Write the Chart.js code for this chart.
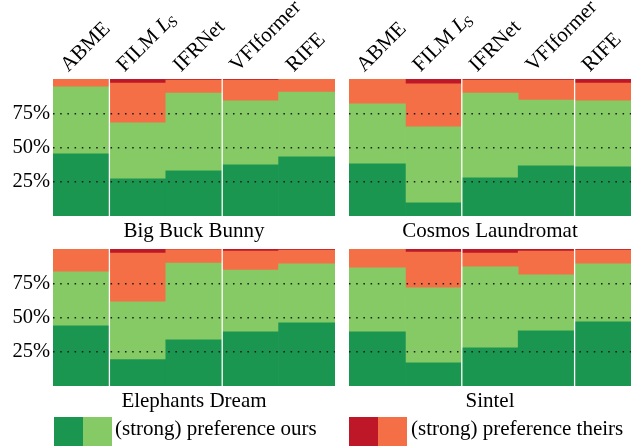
<!DOCTYPE html>
<html>
<head>
<meta charset="utf-8">
<script src="https://cdn.jsdelivr.net/npm/chart.js@4.4.1/dist/chart.umd.min.js"></script>
<style>
    body { margin: 0; background: #fff; font-family: "Liberation Serif", "Times New Roman", serif; }
    #wrap { position: relative; width: 637px; height: 448px; overflow: hidden; }
    canvas { position: absolute; }
    .title { position: absolute; width: 282px; text-align: center; font-size: 21px; line-height: 21px; color: #000; white-space: nowrap; }
    .swatch { position: absolute; width: 29px; height: 29px; top: 417px; }
    .legendText { position: absolute; top: 418px; font-size: 21px; line-height: 21px; color: #000; white-space: nowrap; }
</style>
</head>
<body>
<div id="wrap">
    <canvas id="bbbChart" width="340" height="220" style="left:0;top:0"></canvas>
    <canvas id="cosmosChart" width="297" height="220" style="left:340px;top:0"></canvas>
    <canvas id="edChart" width="340" height="150" style="left:0;top:240px"></canvas>
    <canvas id="sintelChart" width="297" height="150" style="left:340px;top:240px"></canvas>

    <div class="title" style="left:53px;top:220px">Big Buck Bunny</div>
    <div class="title" style="left:349px;top:220px">Cosmos Laundromat</div>
    <div class="title" style="left:53px;top:390px">Elephants Dream</div>
    <div class="title" style="left:349px;top:390px">Sintel</div>

    <div class="swatch" style="left:54px;background:#1b9651"></div>
    <div class="swatch" style="left:83px;background:#86ca66"></div>
    <div class="legendText" style="left:115px">(strong) preference ours</div>
    <div class="swatch" style="left:349px;background:#be1828"></div>
    <div class="swatch" style="left:378px;background:#f46e46"></div>
    <div class="legendText" style="left:411px">(strong) preference theirs</div>
</div>
<script>
// Methods compared against ours (L_S = italic L with subscript S)
const methods = ["ABME", "FILM L_S", "IFRNet", "VFIformer", "RIFE"];
const yTicks = [25, 50, 75];

// Share of votes per method, in percent
// Big Buck Bunny
const bbbStrongOurs = [45.4, 27.2, 33.0, 37.4, 43.2];
const bbbOurs = [48.8, 40.8, 56.8, 46.6, 47.3];
const bbbTheirs = [5.8, 29.1, 9.5, 15.3, 9.5];
const bbbStrongTheirs = [0, 2.9, 0.7, 0.7, 0];

// Cosmos Laundromat
const clStrongOurs = [38.1, 9.7, 27.9, 36.7, 35.9];
const clOurs = [43.7, 55.3, 61.9, 48.0, 48.1];
const clTheirs = [18.2, 31.4, 9.5, 14.6, 13.1];
const clStrongTheirs = [0, 3.6, 0.7, 0.7, 2.9];

// Elephants Dream
const edStrongOurs = [43.9, 19.2, 33.7, 39.6, 46.1];
const edOurs = [39.4, 42.2, 56.1, 45.1, 43.0];
const edTheirs = [16.7, 35.7, 9.7, 13.8, 10.2];
const edStrongTheirs = [0, 2.9, 0.5, 1.5, 0.7];

// Sintel
const sinStrongOurs = [39.6, 17.0, 27.9, 40.3, 46.8];
const sinOurs = [46.6, 54.6, 59.0, 40.8, 42.3];
const sinTheirs = [13.8, 26.2, 10.2, 17.4, 10.2];
const sinStrongTheirs = [0, 2.2, 2.9, 1.5, 0.7];

const colors = ["#1b9651", "#86ca66", "#f46e46", "#be1828"];
const FONT = '"Liberation Serif", "Times New Roman", serif';

Chart.defaults.font.family = FONT;
Chart.defaults.color = "#000";

// White divider lines between some of the bars
const dividerPlugin = {
    id: "dividers",
    afterDatasetsDraw(chart, args, opts) {
        const { ctx, chartArea, scales } = chart;
        ctx.save();
        ctx.strokeStyle = "#fff";
        ctx.lineWidth = 1.3;
        (opts.after || []).forEach((i) => {
            const x = (scales.x.getPixelForValue(i) + scales.x.getPixelForValue(i + 1)) / 2;
            ctx.beginPath();
            ctx.moveTo(x, chartArea.top);
            ctx.lineTo(x, chartArea.bottom);
            ctx.stroke();
        });
        ctx.restore();
    },
};

// Rotated method names above the bars
function drawMethodLabel(ctx, text, x, y) {
    ctx.save();
    ctx.translate(x, y);
    ctx.rotate(-Math.PI / 4);
    ctx.fillStyle = "#000";
    ctx.textAlign = "left";
    ctx.textBaseline = "alphabetic";
    ctx.font = `21px ${FONT}`;
    const m = text.match(/^(.*?)(\S)_(\S)$/);
    if (!m) {
        ctx.fillText(text, 0, 0);
    } else {
        ctx.fillText(m[1], 0, 0);
        let w = ctx.measureText(m[1]).width;
        ctx.font = `italic 21px ${FONT}`;
        ctx.fillText(m[2], w, 0);
        w += ctx.measureText(m[2]).width;
        ctx.font = `italic 15px ${FONT}`;
        ctx.fillText(m[3], w - 1, 3);
    }
    ctx.restore();
}

const topLabelPlugin = {
    id: "topLabels",
    afterDraw(chart, args, opts) {
        if (!opts.show) return;
        const { ctx, chartArea, scales } = chart;
        chart.data.labels.forEach((label, i) => {
            drawMethodLabel(ctx, label, scales.x.getPixelForValue(i) - 13, chartArea.top - 6.5);
        });
    },
};

function createPanel(canvasId, series, cfg) {
    const ctx = document.getElementById(canvasId).getContext("2d");
    const names = ["strong preference ours", "preference ours", "preference theirs", "strong preference theirs"];

    return new Chart(ctx, {
        type: "bar",
        data: {
            labels: methods,
            datasets: series.map((data, k) => ({
                label: names[k],
                data,
                backgroundColor: colors[k],
                borderWidth: 0,
                categoryPercentage: 1,
                barPercentage: 1,
            })),
        },
        options: {
            responsive: false,
            animation: false,
            devicePixelRatio: 1,
            layout: { padding: { top: cfg.top, right: cfg.right, bottom: 4, left: 0 } },
            plugins: {
                legend: { display: false },
                tooltip: { enabled: false },
                dividers: { after: cfg.dividers },
                topLabels: { show: cfg.labels },
            },
            scales: {
                x: { stacked: true, display: false },
                y: {
                    stacked: true,
                    min: 0,
                    max: 100,
                    afterBuildTicks: (axis) => {
                        axis.ticks = yTicks.map((v) => ({ value: v }));
                    },
                    afterFit: (axis) => {
                        // fixed axis width, no extra room for the tick labels
                        axis.width = cfg.yWidth;
                        axis.paddingTop = 0;
                        axis.paddingBottom = 0;
                    },
                    ticks: {
                        display: cfg.yLabels,
                        padding: 3,
                        color: "#000",
                        font: { size: 20.5 },
                        callback: (v) => `${v}%`,
                    },
                    grid: { drawTicks: false, color: "#1a1a1a", lineWidth: 1.5, z: 1 },
                    border: { display: false, dash: [1.5, 5.7] },
                },
            },
        },
        plugins: [dividerPlugin, topLabelPlugin],
    });
}

createPanel("bbbChart", [bbbStrongOurs, bbbOurs, bbbTheirs, bbbStrongTheirs],
    { top: 79, right: 5, yWidth: 53, yLabels: true, labels: true, dividers: [0, 2] });
createPanel("cosmosChart", [clStrongOurs, clOurs, clTheirs, clStrongTheirs],
    { top: 79, right: 6, yWidth: 9, yLabels: false, labels: true, dividers: [1, 3] });
createPanel("edChart", [edStrongOurs, edOurs, edTheirs, edStrongTheirs],
    { top: 9, right: 5, yWidth: 53, yLabels: true, labels: false, dividers: [0, 2] });
createPanel("sintelChart", [sinStrongOurs, sinOurs, sinTheirs, sinStrongTheirs],
    { top: 9, right: 6, yWidth: 9, yLabels: false, labels: false, dividers: [1, 3] });
</script>
</body>
</html>
